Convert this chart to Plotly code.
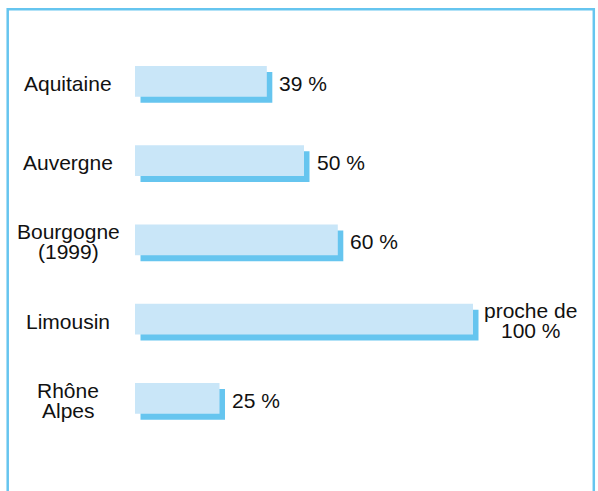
import plotly.graph_objects as go

# ---- data ----
categories = ["Aquitaine", "Auvergne", "Bourgogne<br>(1999)", "Limousin", "Rhône<br>Alpes"]
values = [39, 50, 60, 100, 25]
value_labels = ["39 %", "50 %", "60 %", "proche de<br>100 %", "25 %"]

# ---- styling / layout constants ----
W, H = 598, 491
L_MARGIN = 135
PX_PER_UNIT = 3.38
ROW_TOP = 81.3          # px centre of first bar
ROW_STEP = 79.25        # px between bars
BAR_H_PX = 30.7
SHADOW_DX_PX = 5.5
SHADOW_DY_PX = 6
FONT = "Liberation Sans, Arial, Helvetica, sans-serif"
FS = 21
LINE_PX = 20
TXT = "#111111"
FRONT = "#c9e6f8"
SHADOW = "#66c5ef"

plot_w = W - L_MARGIN
x_max = plot_w / PX_PER_UNIT
y_top = -ROW_TOP / ROW_STEP
y_bot = (H - ROW_TOP) / ROW_STEP
bw = BAR_H_PX / ROW_STEP
dy = SHADOW_DY_PX / ROW_STEP
dx = SHADOW_DX_PX / PX_PER_UNIT

pos = list(range(len(categories)))

fig = go.Figure()
fig.add_trace(go.Bar(
    orientation="h", x=values, y=pos, base=dx,
    width=bw, offset=-bw / 2 + dy,
    marker=dict(color=SHADOW, line=dict(width=0)),
    hoverinfo="skip", showlegend=False))
fig.add_trace(go.Bar(
    orientation="h", x=values, y=pos,
    width=bw, offset=-bw / 2,
    marker=dict(color=FRONT, line=dict(width=0)),
    hoverinfo="skip", showlegend=False))

annotations = []
label_x = (68 - L_MARGIN) / plot_w
for i, cat in enumerate(categories):
    lines = cat.split("<br>")
    n = len(lines)
    for k, line in enumerate(lines):
        annotations.append(dict(
            x=label_x, xref="paper", y=i, yref="y",
            text=line, showarrow=False, xanchor="center", yanchor="middle",
            yshift=-2 + ((n - 1) / 2 - k) * LINE_PX,
            font=dict(family=FONT, size=FS, color=TXT)))

for i, (v, lab) in enumerate(zip(values, value_labels)):
    lines = lab.split("<br>")
    n = len(lines)
    gap = SHADOW_DX_PX + 5
    if n == 1:
        annotations.append(dict(
            x=v, xref="x", y=i, yref="y", text=lab, showarrow=False,
            xanchor="left", yanchor="middle", xshift=gap, yshift=-2,
            font=dict(family=FONT, size=FS, color=TXT)))
    else:
        maxw = max(len(s) for s in lines) * 0.5 * FS
        for k, line in enumerate(lines):
            annotations.append(dict(
                x=v, xref="x", y=i, yref="y", text=line, showarrow=False,
                xanchor="center", yanchor="middle", xshift=gap + maxw / 2,
                yshift=-1 + ((n - 1) / 2 - k) * LINE_PX,
                font=dict(family=FONT, size=FS, color=TXT)))

# frame (left, top, right; bottom beyond the visible page)
def px_x(p):
    return (p - L_MARGIN) / plot_w

def px_y(p):
    return 1 - p / H

fig.add_shape(type="rect", xref="paper", yref="paper",
              x0=px_x(7.7), x1=px_x(593.8), y0=px_y(505), y1=px_y(9.3),
              line=dict(color=SHADOW, width=2.5), fillcolor="rgba(0,0,0,0)",
              layer="above")

fig.update_layout(
    width=W, height=H,
    margin=dict(l=L_MARGIN, r=0, t=0, b=0),
    paper_bgcolor="white", plot_bgcolor="white",
    barmode="overlay",
    xaxis=dict(range=[0, x_max], visible=False, fixedrange=True),
    yaxis=dict(range=[y_bot, y_top], visible=False, fixedrange=True),
    annotations=annotations,
    showlegend=False,
)

fig.write_html("out.html")
